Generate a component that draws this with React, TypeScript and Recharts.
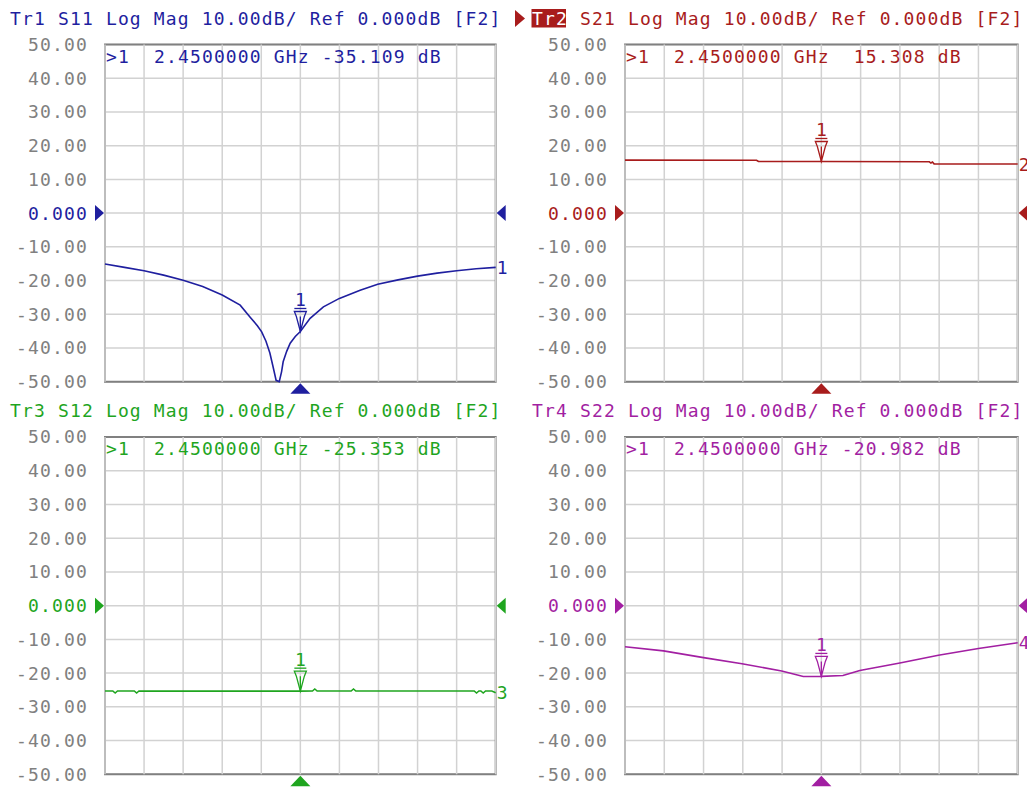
import React from 'react';
import { LineChart, Line, XAxis, YAxis, CartesianGrid, ReferenceDot, ReferenceArea, ReferenceLine } from 'recharts';

// ---- data (frequency in GHz, magnitude in dB) ----
const freqTicks = [2.35, 2.37, 2.39, 2.41, 2.43, 2.45, 2.47, 2.49, 2.51, 2.53, 2.55];
const dbTicks = [-50, -40, -30, -20, -10, 0, 10, 20, 30, 40, 50];
const markerFreq = 2.45;

const s11Freq = [2.35, 2.36, 2.37, 2.38, 2.39, 2.40, 2.41, 2.4192, 2.4242, 2.428, 2.4302, 2.4324, 2.4344, 2.436, 2.4376, 2.4392, 2.4404, 2.4412, 2.443, 2.4448, 2.4474, 2.45, 2.455, 2.4618, 2.47, 2.4806, 2.4896, 2.50, 2.51, 2.52, 2.53, 2.54, 2.55];
const s11Db = [-15.1, -16.1, -17.1, -18.4, -19.9, -21.8, -24.3, -27.3, -30.8, -33.4, -35.2, -38.0, -41.5, -45.5, -49.6, -50.0, -47.0, -44.1, -41.0, -38.6, -36.6, -35.109, -31.2, -27.8, -25.3, -22.9, -21.1, -19.8, -18.7, -17.8, -17.1, -16.5, -16.1];

const s21Freq = [2.35, 2.417, 2.418, 2.45, 2.505, 2.5058, 2.5066, 2.5074, 2.55];
const s21Db = [15.7, 15.68, 15.3, 15.308, 15.22, 14.85, 15.15, 14.6, 14.55];

const s12Freq = [2.35, 2.354, 2.3552, 2.3564, 2.365, 2.3662, 2.3674, 2.45, 2.4562, 2.4574, 2.4586, 2.476, 2.4772, 2.4784, 2.539, 2.5402, 2.5414, 2.5424, 2.5436, 2.5448, 2.548, 2.55];
const s12Db = [-25.3, -25.3, -25.9, -25.3, -25.3, -25.9, -25.3, -25.353, -25.3, -24.7, -25.3, -25.3, -24.7, -25.3, -25.3, -25.9, -25.3, -25.3, -25.9, -25.3, -25.3, -25.8];

const s22Freq = [2.35, 2.3696, 2.39, 2.4096, 2.4298, 2.4408, 2.45, 2.461, 2.4696, 2.49, 2.5096, 2.53, 2.55];
const s22Db = [-12.2, -13.4, -15.4, -17.2, -19.4, -21.0, -20.982, -20.7, -19.2, -17.0, -14.7, -12.7, -11.0];

const traceNames = ['Tr1', 'Tr2', 'Tr3', 'Tr4'];
const paramNames = ['S11', 'S21', 'S12', 'S22'];
const markerTexts = ['-35.109', ' 15.308', '-25.353', '-20.982'];
const traceColors = ['#1F1F9F', '#A81C1C', '#1FA51F', '#A21FA2'];

const FONT: React.CSSProperties = {
  fontFamily: "'DejaVu Sans Mono', monospace",
  fontSize: 18,
  letterSpacing: '1.15px',
};

const toRows = (f: number[], v: number[]) => f.map((x, i) => ({ f: x, db: v[i] }));
const traces = [toRows(s11Freq, s11Db), toRows(s21Freq, s21Db), toRows(s12Freq, s12Db), toRows(s22Freq, s22Db)];
const markerVals = [s11Db[s11Freq.indexOf(markerFreq)], s21Db[s21Freq.indexOf(markerFreq)], s12Db[s12Freq.indexOf(markerFreq)], s22Db[s22Freq.indexOf(markerFreq)]];

const panels = [
  { left: 0, top: 0, width: 520, height: 400, mt: 44.5, mr: 24.3, mb: 18.3 },
  { left: 520, top: 0, width: 507, height: 400, mt: 44.5, mr: 9.3, mb: 18.3 },
  { left: 0, top: 395, width: 520, height: 392, mt: 42, mr: 24.3, mb: 12.7 },
  { left: 520, top: 395, width: 507, height: 392, mt: 42, mr: 9.3, mb: 12.7 },
];

const YTick = (props: any) => {
  const { x, y, payload, color } = props;
  const v = payload.value;
  const isZero = v === 0;
  const label = isZero ? '0.000' : v.toFixed(2);
  return (
    <g>
      <text x={x - 17} y={y} dy="0.36em" textAnchor="end" fill={isZero ? color : '#808080'} style={FONT}>
        {label}
      </text>
      {isZero && <polygon points={`${x - 10},${y - 8} ${x - 1},${y} ${x - 10},${y + 8}`} fill={color} />}
    </g>
  );
};

const Panel = ({ idx }: { idx: number }) => {
  const p = panels[idx];
  const color = traceColors[idx];
  const data = traces[idx];
  const last = data[data.length - 1];
  const mv = markerVals[idx];
  return (
    <div style={{ position: 'absolute', left: p.left, top: p.top }}>
      <LineChart width={p.width} height={p.height} data={data} margin={{ top: p.mt, right: p.mr, bottom: p.mb, left: 0 }}>
        <CartesianGrid stroke="#D2D2D2" strokeWidth={1.5} vertical={false} />
        <XAxis type="number" dataKey="f" domain={[2.35, 2.55]} ticks={freqTicks} tick={false} axisLine={false} tickLine={false} height={0} />
        <YAxis
          type="number"
          domain={[-50, 50]}
          ticks={dbTicks}
          width={105}
          tickSize={0}
          tickMargin={0}
          axisLine={false}
          tickLine={false}
          interval={0}
          tick={<YTick color={color} />}
        />
        {freqTicks.map((t) => (
          <ReferenceLine key={t} x={t} stroke="#D2D2D2" strokeWidth={1.5} />
        ))}
        <ReferenceArea x1={2.35} x2={2.55} y1={-50} y2={50} fill="none" stroke="#808080" strokeWidth={2} fillOpacity={0} />
        <Line type="linear" dataKey="db" stroke={color} strokeWidth={1.6} dot={false} isAnimationActive={false} />
        <ReferenceDot
          x={2.55}
          y={0}
          r={0}
          shape={(s: any) => <polygon points={`${s.cx + 1},${s.cy} ${s.cx + 10},${s.cy - 8} ${s.cx + 10},${s.cy + 8}`} fill={color} />}
        />
        <ReferenceDot
          x={markerFreq}
          y={-50}
          r={0}
          shape={(s: any) => <polygon points={`${s.cx},${s.cy + 1.5} ${s.cx - 10},${s.cy + 12} ${s.cx + 10},${s.cy + 12}`} fill={color} />}
        />
        <ReferenceDot
          x={last.f}
          y={last.db}
          r={0}
          shape={(s: any) => (
            <text x={s.cx + 1} y={s.cy} dy="0.36em" fill={color} style={FONT}>
              {String(idx + 1)}
            </text>
          )}
        />
        <ReferenceDot
          x={markerFreq}
          y={mv}
          r={0}
          shape={(s: any) => {
            const cx = s.cx;
            const t = s.cy;
            return (
              <g stroke={color} fill="none" strokeWidth={1.3}>
                <text x={cx} y={t - 25} textAnchor="middle" fill={color} stroke="none" style={{ ...FONT, letterSpacing: 0 }}>
                  1
                </text>
                <line x1={cx - 6} y1={t - 23} x2={cx + 6} y2={t - 23} />
                <polygon points={`${cx - 6},${t - 20} ${cx + 6},${t - 20} ${cx + 4},${t - 15} ${cx},${t} ${cx - 4},${t - 15}`} />
                <line x1={cx} y1={t - 15} x2={cx} y2={t} />
              </g>
            );
          }}
        />
      </LineChart>
    </div>
  );
};

const titleRest = (i: number) => `${paramNames[i]} Log Mag 10.00dB/ Ref 0.000dB [F2]`;
const infoText = (i: number) => `>1  2.4500000 GHz ${markerTexts[i]} dB`;

export default function App() {
  return (
    <div style={{ position: 'absolute', left: 0, top: 0, width: 1027, height: 787, background: '#fff', overflow: 'hidden' }}>
      {[0, 1, 2, 3].map((i) => (
        <Panel key={i} idx={i} />
      ))}
      <svg width={1027} height={787} style={{ position: 'absolute', left: 0, top: 0, pointerEvents: 'none' }}>
        <text x={10} y={25} fill={traceColors[0]} style={{ ...FONT, whiteSpace: 'pre' }}>
          {`${traceNames[0]} ${titleRest(0)}`}
        </text>
        <polygon points="515,10 525,18.5 515,27" fill={traceColors[1]} />
        <rect x={531.5} y={9} width={34.5} height={18.5} fill={traceColors[1]} />
        <text x={532} y={25} fill={traceColors[1]} style={{ ...FONT, whiteSpace: 'pre' }}>
          <tspan fill="#fff">{traceNames[1]}</tspan>
          {` ${titleRest(1)}`}
        </text>
        <text x={10} y={417} fill={traceColors[2]} style={{ ...FONT, whiteSpace: 'pre' }}>
          {`${traceNames[2]} ${titleRest(2)}`}
        </text>
        <text x={532} y={417} fill={traceColors[3]} style={{ ...FONT, whiteSpace: 'pre' }}>
          {`${traceNames[3]} ${titleRest(3)}`}
        </text>
        <text x={106} y={63} fill={traceColors[0]} style={{ ...FONT, whiteSpace: 'pre' }}>{infoText(0)}</text>
        <text x={626} y={63} fill={traceColors[1]} style={{ ...FONT, whiteSpace: 'pre' }}>{infoText(1)}</text>
        <text x={106} y={455} fill={traceColors[2]} style={{ ...FONT, whiteSpace: 'pre' }}>{infoText(2)}</text>
        <text x={626} y={455} fill={traceColors[3]} style={{ ...FONT, whiteSpace: 'pre' }}>{infoText(3)}</text>
      </svg>
    </div>
  );
}
